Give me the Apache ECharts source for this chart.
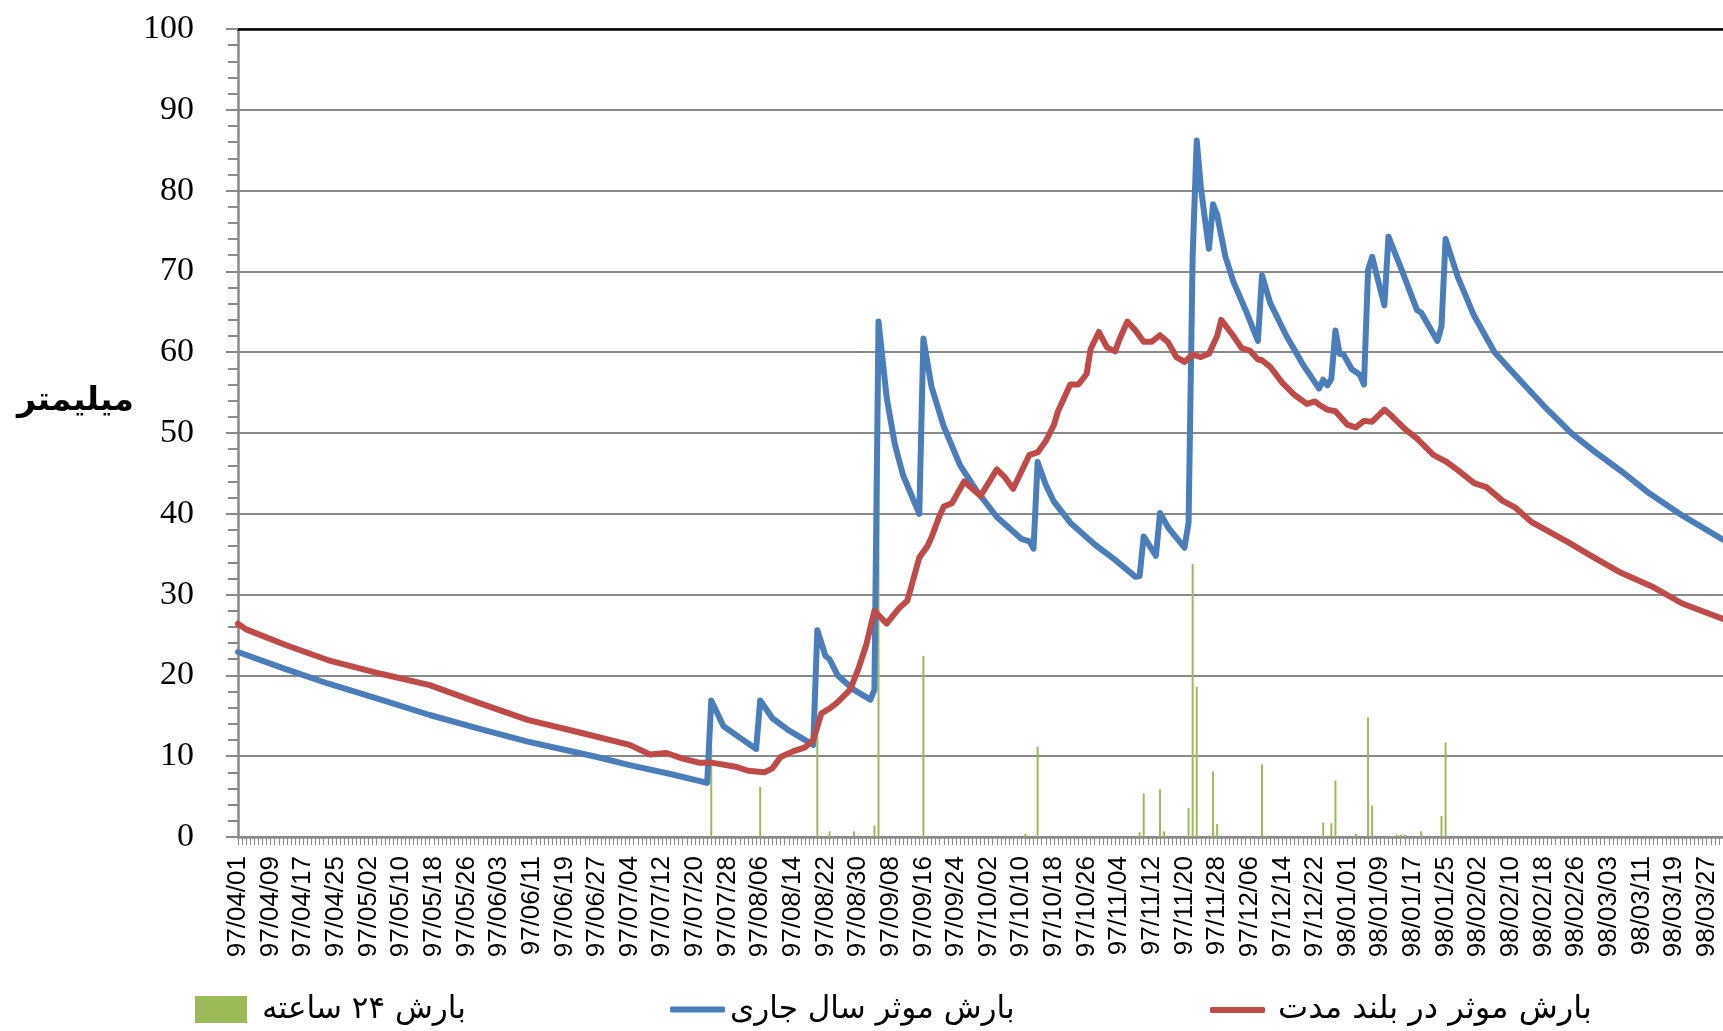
<!DOCTYPE html>
<html>
<head>
<meta charset="UTF-8">
<title>بارش موثر</title>
<script type="text/javascript" src="https://cdn.jsdelivr.net/npm/echarts@6/dist/echarts.min.js"></script>
<style>
  html, body { margin: 0; padding: 0; background: #fff; }
</style>
</head>
<body>
<div id="chart" style="width: 1723px; height: 1031px;"></div>
<script type="text/javascript">
// months on the axis: [year, month, days in month]
var monthSpec = [[97,4,31],[97,5,31],[97,6,31],[97,7,30],[97,8,30],[97,9,30],
                 [97,10,30],[97,11,30],[97,12,29],[98,1,31],[98,2,31],[98,3,31]];

var seriesNames = ['بارش ۲۴ ساعته', 'بارش موثر سال جاری', 'بارش موثر در بلند مدت'];

// [day index, mm]  day 0 = 97/04/01
var rain24h = [
  [116,11.0],[128,6.2],[142,15.0],[145,0.7],[151,0.7],[156,1.4],[157,46.0],[168,22.4],
  [193,0.4],[196,11.2],[221,0.6],[222,5.4],[226,5.9],[227,0.7],[233,3.6],[234,33.8],
  [235,18.6],[238,0.2],[239,8.1],[240,1.6],[251,9.0],[252,0.1],[266,1.8],[268,1.7],
  [269,7.0],[274,0.4],[277,14.8],[278,3.9],[283,0.1],[284,0.3],[285,0.3],[286,0.3],
  [290,0.7],[295,2.6],[296,11.7]
];

var effCurrent = [
  [0,22.9],[11,20.9],[22,19.0],[35,17.0],[47,15.1],[59,13.4],[71,11.8],[80,10.8],
  [88,9.9],[96,8.9],[106,7.8],[115,6.7],[116,16.9],
  [119,13.7],[123,12.3],[127,10.9],[128,16.9],[131,14.7],[135,13.2],[141,11.4],
  [142,25.6],[144,22.4],[145,22.0],[147,20.0],[151,18.2],[155,17.0],[156,18.2],
  [157,63.8],[159,54.4],[161,48.6],[163,44.8],[167,40.0],[168,61.7],[170,55.7],
  [173,50.8],[177,46.0],[181,42.9],[186,39.6],[192,36.9],[194,36.6],[195,35.7],
  [196,46.4],[198,43.6],[200,41.5],[204,38.9],[210,36.2],[215,34.3],[220,32.2],
  [221,32.3],[222,37.2],[225,34.8],[226,40.1],[228,38.3],[232,35.8],[233,38.9],
  [234,71.9],[235,86.2],[236,80.5],[237,76.5],[238,72.8],[239,78.3],[240,77.0],
  [242,71.9],[244,68.7],[247,65.2],[250,61.4],[251,69.5],[253,66.1],[257,62.0],
  [261,58.5],[265,55.5],[266,56.6],[267,55.9],[268,56.7],[269,62.7],[270,59.8],
  [271,59.7],[273,57.9],[275,57.2],[276,56.0],[277,70.2],[278,71.8],[280,67.8],
  [281,65.8],[282,74.3],[285,70.5],[289,65.2],[290,64.9],[294,61.4],[295,63.2],
  [296,74.0],[299,69.3],[303,64.5],[308,60.0],[313,57.2],[320,53.4],[327,49.9],
  [332,47.9],[339,45.3],[346,42.5],[354,39.8],[364,36.8]
];

var effLongTerm = [
  [0,26.4],[2,25.7],[12,23.7],[22,21.9],[35,20.2],[47,18.8],[59,16.6],[71,14.5],
  [84,12.9],[96,11.4],[101,10.2],[105,10.4],
  [109,9.7],[113,9.2],[116,9.2],[122,8.7],[125,8.2],[129,8.0],[131,8.5],[133,9.9],
  [136,10.6],[139,11.1],[141,12.0],[143,15.3],[145,15.9],[147,16.7],[150,18.2],
  [152,20.7],[154,23.8],[156,28.0],[159,26.4],[162,28.3],[164,29.2],[165,30.9],
  [167,34.6],[169,36.0],[170,37.1],[172,39.8],[173,40.9],[175,41.3],[178,44.0],
  [182,42.2],[186,45.5],[188,44.5],[190,43.1],[192,45.2],[194,47.3],[196,47.6],
  [198,49.0],[200,51.0],[201,52.7],[204,56.0],[206,56.0],[208,57.3],[209,60.4],
  [211,62.5],[213,60.6],[215,60.1],[216,61.5],[218,63.8],[220,62.7],[222,61.3],
  [224,61.3],[226,62.1],[228,61.2],[230,59.4],[232,58.8],[234,59.7],[236,59.4],
  [238,59.8],[240,62.0],[241,64.0],[244,62.0],[246,60.5],[248,60.2],[250,59.1],
  [251,59.0],[253,58.2],[256,56.2],[259,54.7],[262,53.6],[264,53.9],[265,53.5],
  [267,52.9],[269,52.7],[272,51.0],[274,50.7],[276,51.5],[278,51.4],[281,52.9],
  [283,52.0],[286,50.5],[289,49.3],[293,47.3],[296,46.5],[299,45.4],[303,43.8],
  [306,43.3],[310,41.6],[313,40.8],[317,39.0],[326,36.5],[332,34.7],[339,32.7],
  [347,30.9],[354,28.9],[364,27.0]
];

function pad(n) { return n < 10 ? '0' + n : '' + n; }
var days = [];
monthSpec.forEach(function (m) {
  for (var d = 1; d <= m[2]; d++) days.push(m[0] + '/' + pad(m[1]) + '/' + pad(d));
});

var gridGray = '#8a8a8a';
var faFont = 'DejaVu Sans';
var chart = echarts.init(document.getElementById('chart'));

var option = {
  animation: false,
  backgroundColor: '#fff',
  title: {
    text: 'میلیمتر',
    left: 12, top: 380,
    textStyle: { fontFamily: faFont, fontWeight: 'bold', fontSize: 33, color: '#000' }
  },
  legend: [
    { data: [seriesNames[0]], left: 190, top: 989, icon: 'rect', itemWidth: 52, itemHeight: 27,
      textStyle: { fontFamily: faFont, fontSize: 31, color: '#000', padding: [0,0,0,10] } },
    { data: [seriesNames[1]], left: 665, top: 989, icon: 'roundRect', itemWidth: 55, itemHeight: 6,
      textStyle: { fontFamily: faFont, fontSize: 31, color: '#000' } },
    { data: [seriesNames[2]], left: 1205, top: 989, icon: 'roundRect', itemWidth: 55, itemHeight: 6,
      textStyle: { fontFamily: faFont, fontSize: 32, color: '#000', padding: [0,0,0,8] } }
  ],
  grid: { left: 238, right: -4, top: 29, bottom: 194 },
  xAxis: [{
    type: 'category',
    data: days,
    boundaryGap: false,
    axisLine: { lineStyle: { color: gridGray, width: 2.5 } },
    axisTick: { show: true, interval: 0, length: 8, lineStyle: { color: gridGray, width: 1 } },
    axisLabel: {
      interval: 7, rotate: 90, margin: 19,
      fontFamily: 'Liberation Sans', fontSize: 26, color: '#000'
    },
    splitLine: { show: false }
  }, {
    type: 'category',
    data: days,
    position: 'top',
    boundaryGap: false,
    axisLine: { lineStyle: { color: '#000', width: 2.5 } },
    axisTick: { show: false },
    axisLabel: { show: false }
  }],
  yAxis: {
    type: 'value',
    min: 0, max: 100, interval: 10,
    axisLine: { show: true, lineStyle: { color: gridGray, width: 2.5 } },
    axisTick: { show: true, length: 12, lineStyle: { color: gridGray, width: 2 } },
    minorTick: { show: true, splitNumber: 5, length: 10, lineStyle: { color: gridGray, width: 2 } },
    axisLabel: { margin: 44, fontFamily: 'Liberation Serif', fontSize: 34, color: '#000' },
    splitLine: { lineStyle: { color: gridGray, width: 2 } }
  },
  series: [{
    name: seriesNames[0],
    type: 'bar',
    data: rain24h,
    barWidth: 2,
    itemStyle: { color: '#9bbb59' }
  }, {
    name: seriesNames[1],
    type: 'line',
    data: effCurrent,
    symbol: 'none',
    lineStyle: { color: '#4a7ebb', width: 6, cap: 'round', join: 'round' },
    itemStyle: { color: '#4a7ebb' }
  }, {
    name: seriesNames[2],
    type: 'line',
    data: effLongTerm,
    symbol: 'none',
    lineStyle: { color: '#be4b48', width: 6, cap: 'round', join: 'round' },
    itemStyle: { color: '#be4b48' }
  }]
};

chart.setOption(option);
</script>
</body>
</html>
